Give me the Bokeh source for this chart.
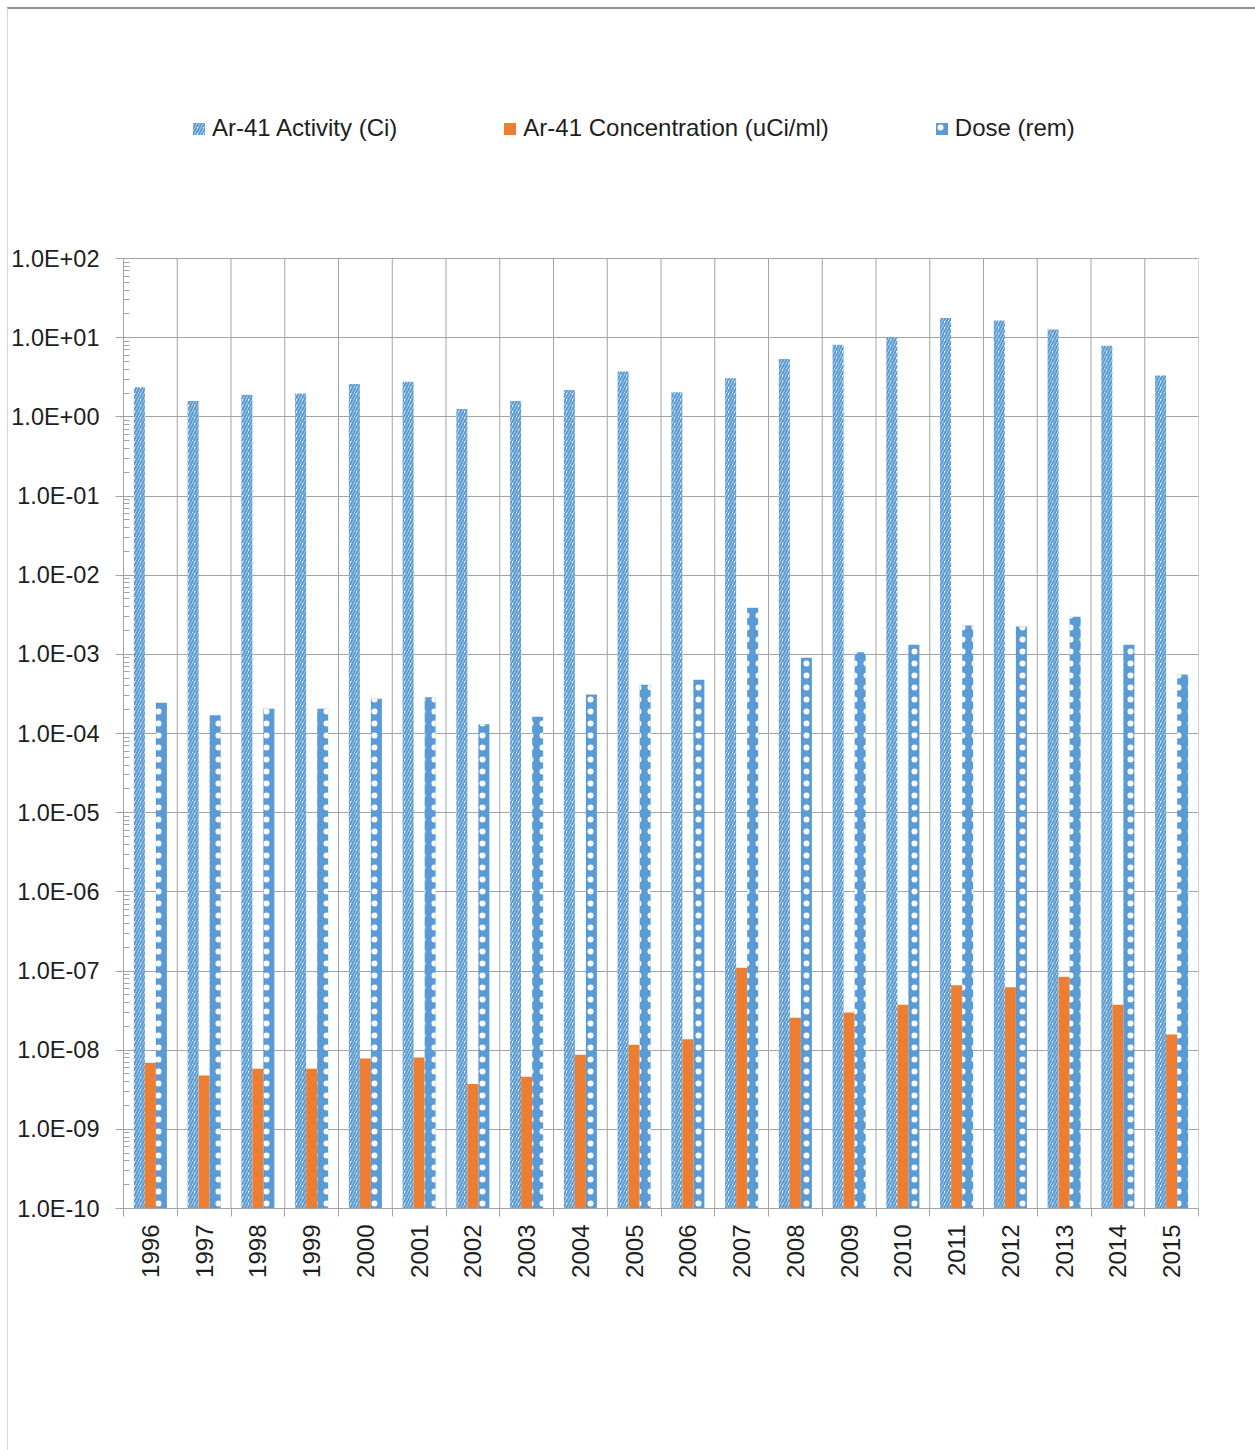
from math import pi

from bokeh.embed import file_html
from bokeh.models import (ColumnDataSource, CustomJSTickFormatter, FixedTicker,
                          Legend, LegendItem, LinearAxis, Range1d)
from bokeh.plotting import figure
from bokeh.resources import INLINE

# ---- data -------------------------------------------------------------
years = ["1996", "1997", "1998", "1999", "2000", "2001", "2002", "2003", "2004", "2005",
         "2006", "2007", "2008", "2009", "2010", "2011", "2012", "2013", "2014", "2015"]

activity_ci = [2.37, 1.59, 1.90, 1.97, 2.59, 2.77, 1.26, 1.59, 2.19, 3.73,
               2.05, 3.08, 5.36, 8.11, 10.2, 17.7, 16.5, 12.7, 7.88, 3.33]

concentration_uci_ml = [6.93e-9, 4.80e-9, 5.82e-9, 5.82e-9, 7.85e-9, 8.09e-9, 3.73e-9, 4.61e-9,
                        8.75e-9, 1.17e-8, 1.37e-8, 1.10e-7, 2.57e-8, 2.99e-8, 3.74e-8, 6.60e-8,
                        6.24e-8, 8.43e-8, 3.74e-8, 1.58e-8]

dose_rem = [2.45e-4, 1.70e-4, 2.06e-4, 2.06e-4, 2.75e-4, 2.87e-4, 1.31e-4, 1.63e-4, 3.10e-4, 4.14e-4,
            4.79e-4, 3.89e-3, 9.08e-4, 1.06e-3, 1.32e-3, 2.32e-3, 2.24e-3, 2.99e-3, 1.32e-3, 5.58e-4]

series_labels = ["Ar-41 Activity (Ci)", "Ar-41 Concentration (uCi/ml)", "Dose (rem)"]

ytick_values = [1e-10, 1e-9, 1e-8, 1e-7, 1e-6, 1e-5, 1e-4, 1e-3, 1e-2, 1e-1, 1e0, 1e1, 1e2]
ytick_labels = ["1.0E-10", "1.0E-09", "1.0E-08", "1.0E-07", "1.0E-06", "1.0E-05", "1.0E-04",
                "1.0E-03", "1.0E-02", "1.0E-01", "1.0E+00", "1.0E+01", "1.0E+02"]

# ---- styling ----------------------------------------------------------
BLUE = "#5B9BD5"
ORANGE = "#ED7D31"
GRID = "#a3a3a3"
TEXT = "#1e1e1e"
FONT = "Liberation Sans"

# plot area: 12 decades over 950 px, plus head room above the axes for the legend
AXIS_H = 950
HEAD = 158
DECADES = len(ytick_values) - 1
y_top = ytick_values[-1] * 10 ** (HEAD * DECADES / AXIS_H)

n = len(years)
centers = [i + 0.5 for i in range(n)]
bounds = list(range(n + 1))
bar_w = 0.205

source = ColumnDataSource(dict(
    x_act=[c - bar_w for c in centers],
    x_conc=centers,
    x_dose=[c + bar_w for c in centers],
    activity=activity_ci,
    conc=concentration_uci_ml,
    dose=dose_rem,
))

p = figure(
    frame_width=1075, frame_height=AXIS_H + HEAD,
    min_border_left=114, min_border_right=57, min_border_top=91, min_border_bottom=242,
    x_range=Range1d(0, n), y_range=Range1d(ytick_values[0], y_top),
    y_axis_type="log",
    output_backend="svg", toolbar_location=None,
    background_fill_color="white", border_fill_color="white",
    margin=(7, 0, 0, 7),
    styles={"border-top": "2px solid #8e8e8e",
            "border-left": "1px solid #d6d6d6",
            "border-right": "1px solid #d6d6d6"},
)
p.outline_line_color = None

# category dividers (vertical grid) spanning only the value axis
p.segment(x0=bounds, x1=bounds, y0=ytick_values[0], y1=ytick_values[-1],
          line_color=GRID, line_width=1)

# ---- bars ---------------------------------------------------------------
base = ytick_values[0]
r_act = p.vbar(x="x_act", width=bar_w, bottom=base, top="activity", source=source,
               fill_color="white", line_color=None,
               hatch_pattern="/", hatch_color=BLUE, hatch_scale=6, hatch_weight=2.3)
r_conc = p.vbar(x="x_conc", width=bar_w, bottom=base, top="conc", source=source,
                fill_color=ORANGE, line_color=None)
r_dose = p.vbar(x="x_dose", width=bar_w, bottom=base, top="dose", source=source,
                fill_color=BLUE, line_color=None,
                hatch_pattern=".", hatch_color="white", hatch_scale=12, hatch_weight=1)

# ---- y axis -------------------------------------------------------------
minor = [m * v for v in ytick_values[:-1] for m in range(2, 10)]
yticker = FixedTicker(ticks=ytick_values, minor_ticks=minor)
yax = p.yaxis[0]
yax.ticker = yticker
yax.bounds = (ytick_values[0], ytick_values[-1])
yax.formatter = CustomJSTickFormatter(args=dict(major_vals=ytick_values, major_text=ytick_labels), code="""
    let best = 0, bd = Infinity;
    for (let i = 0; i < major_vals.length; i++) {
        const d = Math.abs(Math.log10(tick) - Math.log10(major_vals[i]));
        if (d < bd) { bd = d; best = i; }
    }
    return major_text[best];
""")
yax.axis_line_color = GRID
yax.major_tick_line_color = GRID
yax.minor_tick_line_color = GRID
yax.major_tick_out = 8
yax.major_tick_in = 0
yax.minor_tick_out = 0
yax.minor_tick_in = 6
yax.major_label_standoff = 16
yax.major_label_text_font = FONT
yax.major_label_text_font_size = "23.5px"
yax.major_label_text_color = TEXT

p.ygrid.ticker = yticker
p.ygrid.grid_line_color = GRID
p.ygrid.minor_grid_line_color = None

# ---- x axes: boundary ticks + centred year labels ------------------------
xax = p.xaxis[0]
xax.ticker = FixedTicker(ticks=bounds, minor_ticks=[])
xax.axis_line_color = GRID
xax.major_tick_line_color = GRID
xax.major_tick_out = 8
xax.major_tick_in = 0
xax.minor_tick_line_color = None
xax.major_label_text_font_size = "0px"
xax.major_label_standoff = 0

p.xgrid.grid_line_color = None

lab_ax = LinearAxis(
    ticker=FixedTicker(ticks=centers, minor_ticks=[]),
    formatter=CustomJSTickFormatter(args=dict(year_names=years),
                                    code="return year_names[Math.floor(tick)];"),
    axis_line_color=None, major_tick_line_color=None, minor_tick_line_color=None,
    major_tick_out=0, major_tick_in=0,
    major_label_orientation=pi / 2, major_label_standoff=8,
    major_label_text_font=FONT, major_label_text_font_size="24px",
    major_label_text_color=TEXT,
)
p.add_layout(lab_ax, "below")

# ---- legend (in the head room above the value axis) -----------------------
legend = Legend(
    items=[LegendItem(label=series_labels[0], renderers=[r_act]),
           LegendItem(label=series_labels[1], renderers=[r_conc]),
           LegendItem(label=series_labels[2], renderers=[r_dose])],
    location=(68, 1066), orientation="horizontal",
    spacing=105, padding=0, margin=0,
    glyph_width=15, glyph_height=15, label_standoff=6,
    label_text_font=FONT, label_text_font_size="24px", label_text_color=TEXT,
    border_line_color=None, background_fill_alpha=0,
)
p.add_layout(legend, "center")

open("out.html", "w").write(file_html(p, INLINE))
